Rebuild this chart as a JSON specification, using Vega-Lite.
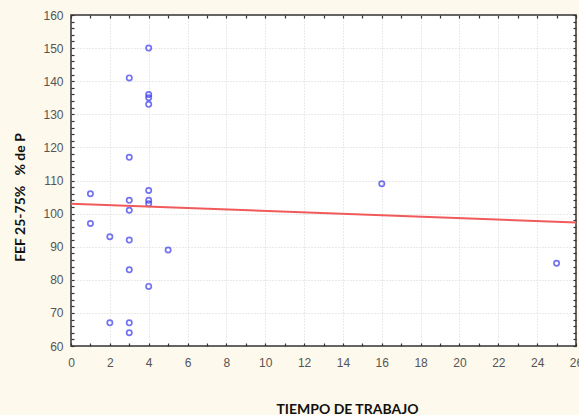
{
  "$schema": "https://vega.github.io/schema/vega-lite/v6.json",
  "width": 505,
  "height": 331,
  "autosize": {"type": "none"},
  "padding": {"left": 71, "top": 15, "right": 3, "bottom": 69},
  "background": "#fdf9ec",
  "config": {
    "view": {"stroke": "#333333", "strokeWidth": 1.5, "fill": "#ffffff"},
    "axis": {"labelFont": "Liberation Sans", "labelFontSize": 12, "labelColor": "#555555", "domain": false, "tickColor": "#333333", "tickSize": -3, "tickWidth": 1.2, "gridColor": "#d4d4d4", "gridDash": [1, 2], "gridWidth": 1, "titleFont": "Lato", "titleFontWeight": "bold", "titleColor": "#111111", "titleFontSize": 14}
  },
  "data": {"values": [
    {"tiempo": 1, "fef": 106}, {"tiempo": 1, "fef": 97},
    {"tiempo": 2, "fef": 93}, {"tiempo": 2, "fef": 67},
    {"tiempo": 3, "fef": 141}, {"tiempo": 3, "fef": 117}, {"tiempo": 3, "fef": 104}, {"tiempo": 3, "fef": 101},
    {"tiempo": 3, "fef": 92}, {"tiempo": 3, "fef": 83}, {"tiempo": 3, "fef": 67}, {"tiempo": 3, "fef": 64},
    {"tiempo": 4, "fef": 150}, {"tiempo": 4, "fef": 136}, {"tiempo": 4, "fef": 135}, {"tiempo": 4, "fef": 133},
    {"tiempo": 4, "fef": 107}, {"tiempo": 4, "fef": 104}, {"tiempo": 4, "fef": 103}, {"tiempo": 4, "fef": 78},
    {"tiempo": 5, "fef": 89}, {"tiempo": 16, "fef": 109}, {"tiempo": 25, "fef": 85}
  ]},
  "layer": [
    {
      "mark": {"type": "point", "shape": "circle", "filled": false, "color": "#3a3aee", "size": 28, "strokeWidth": 1.7},
      "encoding": {
        "x": {"field": "tiempo", "type": "quantitative", "scale": {"domain": [0, 26], "nice": false, "zero": false},
          "axis": {"orient": "bottom", "title": "TIEMPO DE TRABAJO", "values": [0,1,2,3,4,5,6,7,8,9,10,11,12,13,14,15,16,17,18,19,20,21,22,23,24,25,26],
            "labelExpr": "datum.value % 2 === 0 ? datum.label : ''", "labelPadding": 14, "labelFlush": false, "labelOverlap": false,
            "gridOpacity": {"condition": {"test": "datum.value % 2 === 0 && datum.value > 0 && datum.value < 26", "value": 1}, "value": 0},
            "titleX": 276, "titleY": 67, "titleAlign": "center", "titleBaseline": "alphabetic"}},
        "y": {"field": "fef", "type": "quantitative", "scale": {"domain": [60, 160], "nice": false, "zero": false},
          "axis": {"orient": "left", "title": "FEF 25-75%\u00a0\u00a0\u00a0% de P",
            "values": [60,62,64,66,68,70,72,74,76,78,80,82,84,86,88,90,92,94,96,98,100,102,104,106,108,110,112,114,116,118,120,122,124,126,128,130,132,134,136,138,140,142,144,146,148,150,152,154,156,158,160],
            "labelExpr": "datum.value % 10 === 0 ? datum.label : ''", "labelPadding": 11, "labelOverlap": false,
            "gridOpacity": {"condition": {"test": "datum.value % 10 === 0 && datum.value > 60 && datum.value < 160", "value": 1}, "value": 0},
            "titleX": -51, "titleY": 182, "titleAngle": -90, "titleAlign": "center", "titleBaseline": "middle"}}
      }
    },
    {
      "data": {"values": [{"tiempo": 0, "fef": 103.0}, {"tiempo": 26, "fef": 97.3}]},
      "mark": {"type": "line", "color": "#f05a5a", "strokeWidth": 2},
      "encoding": {
        "x": {"field": "tiempo", "type": "quantitative",
          "axis": {"orient": "top", "title": null, "labels": false, "grid": false, "values": [0,1,2,3,4,5,6,7,8,9,10,11,12,13,14,15,16,17,18,19,20,21,22,23,24,25,26]}},
        "y": {"field": "fef", "type": "quantitative",
          "axis": {"orient": "right", "title": null, "labels": false, "grid": false,
            "values": [60,62,64,66,68,70,72,74,76,78,80,82,84,86,88,90,92,94,96,98,100,102,104,106,108,110,112,114,116,118,120,122,124,126,128,130,132,134,136,138,140,142,144,146,148,150,152,154,156,158,160]}}
      }
    }
  ],
  "resolve": {"axis": {"x": "independent", "y": "independent"}}
}
